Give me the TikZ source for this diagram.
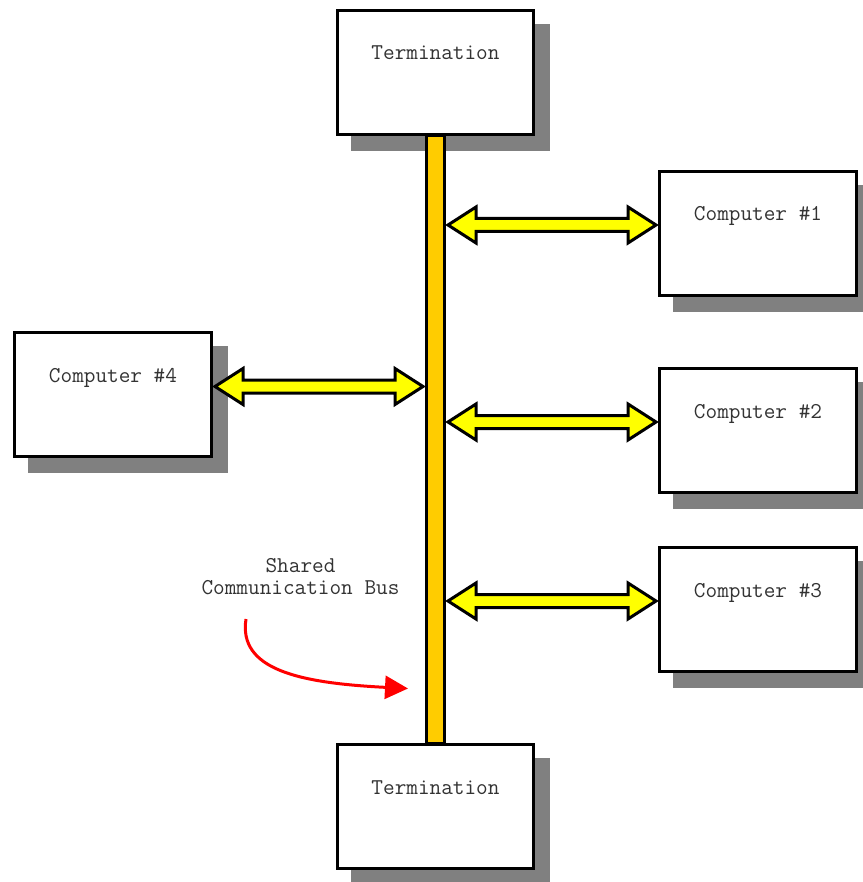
\documentclass[tikz,border=0pt]{standalone}
\usetikzlibrary{calc,arrows.meta,backgrounds}
\definecolor{busfill}{HTML}{FFCC00}
\definecolor{linkfill}{HTML}{FFFF00}
\definecolor{shadowgray}{HTML}{808080}
\definecolor{ink}{HTML}{333333}

% Double-headed block arrow between two x positions at the height of #3
\newcommand{\linkarrow}[3]{%
  \draw[linkarrow] let \p1=(#1), \p2=(#2), \p3=(#3) in
    (\x1+2pt,\y3) -- (\x1+30pt,\y3+18pt) -- (\x1+30pt,\y3+6.5pt)
    -- (\x2-30pt,\y3+6.5pt) -- (\x2-30pt,\y3+18pt) -- (\x2-2pt,\y3)
    -- (\x2-30pt,\y3-18pt) -- (\x2-30pt,\y3-6.5pt)
    -- (\x1+30pt,\y3-6.5pt) -- (\x1+30pt,\y3-18pt) -- cycle;}

\begin{document}
\begin{tikzpicture}[x=1pt,y=-1pt,
  unitbox/.style={draw=black, fill=white, line width=3pt,
    minimum width=197pt, minimum height=124pt, inner sep=0pt},
  busbar/.style={draw=black, fill=busfill, line width=3pt,
    minimum width=18pt, minimum height=608pt, inner sep=0pt},
  linkarrow/.style={draw=black, fill=linkfill, line width=3pt, line join=miter},
  caption/.style={font=\ttfamily\fontsize{22.6}{22}\selectfont, text=ink,
    inner sep=0pt, anchor=base},
  pointer/.style={draw=red, line width=3pt, -{Triangle[length=23pt,width=23pt]}}
]
\useasboundingbox (0,0) rectangle (862,882);

% shared bus
\node[busbar] (bus) at (435.5,439.5) {};

% terminations and stations
\node[unitbox, minimum width=196pt] (t1) at (435.5,72.5) {};
\node[unitbox, minimum width=196pt] (t2) at (435.5,806.5) {};
\node[unitbox] (c1) at (758,233.5) {};
\node[unitbox] (c2) at (758,430.5) {};
\node[unitbox] (c3) at (758,609.5) {};
\node[unitbox] (c4) at (113,394.5) {};

% drop shadows
\begin{scope}[on background layer]
  \foreach \b in {t1,t2,c1,c2,c3,c4}
    \fill[shadowgray] ([shift={(15,15)}]\b.north west) rectangle ([shift={(15,15)}]\b.south east);
\end{scope}

% box captions
\node[caption] at ([yshift=-51pt]t1.north) {Termination};
\node[caption] at ([yshift=-51pt]t2.north) {Termination};
\node[caption] at ([yshift=-51pt]c1.north) {Computer \#1};
\node[caption] at ([yshift=-51pt]c2.north) {Computer \#2};
\node[caption] at ([yshift=-51pt]c3.north) {Computer \#3};
\node[caption] at ([yshift=-51pt]c4.north) {Computer \#4};

% links between stations and bus
\linkarrow{bus.east}{c1.west}{[yshift=-55pt]c1.north}
\linkarrow{bus.east}{c2.west}{[yshift=-55pt]c2.north}
\linkarrow{bus.east}{c3.west}{[yshift=-55pt]c3.north}
\linkarrow{c4.east}{bus.west}{[yshift=-55.5pt]c4.north}

% bus label and pointer
\node[caption, align=center] (buslabel) at (300.5,594) {Shared\\Communication Bus};
\coordinate (tail) at (246,619);
\coordinate (head) at (408,688.5);
\draw[pointer] (tail) .. controls (238,670) and (300,683) .. (head);
\end{tikzpicture}
\end{document}
